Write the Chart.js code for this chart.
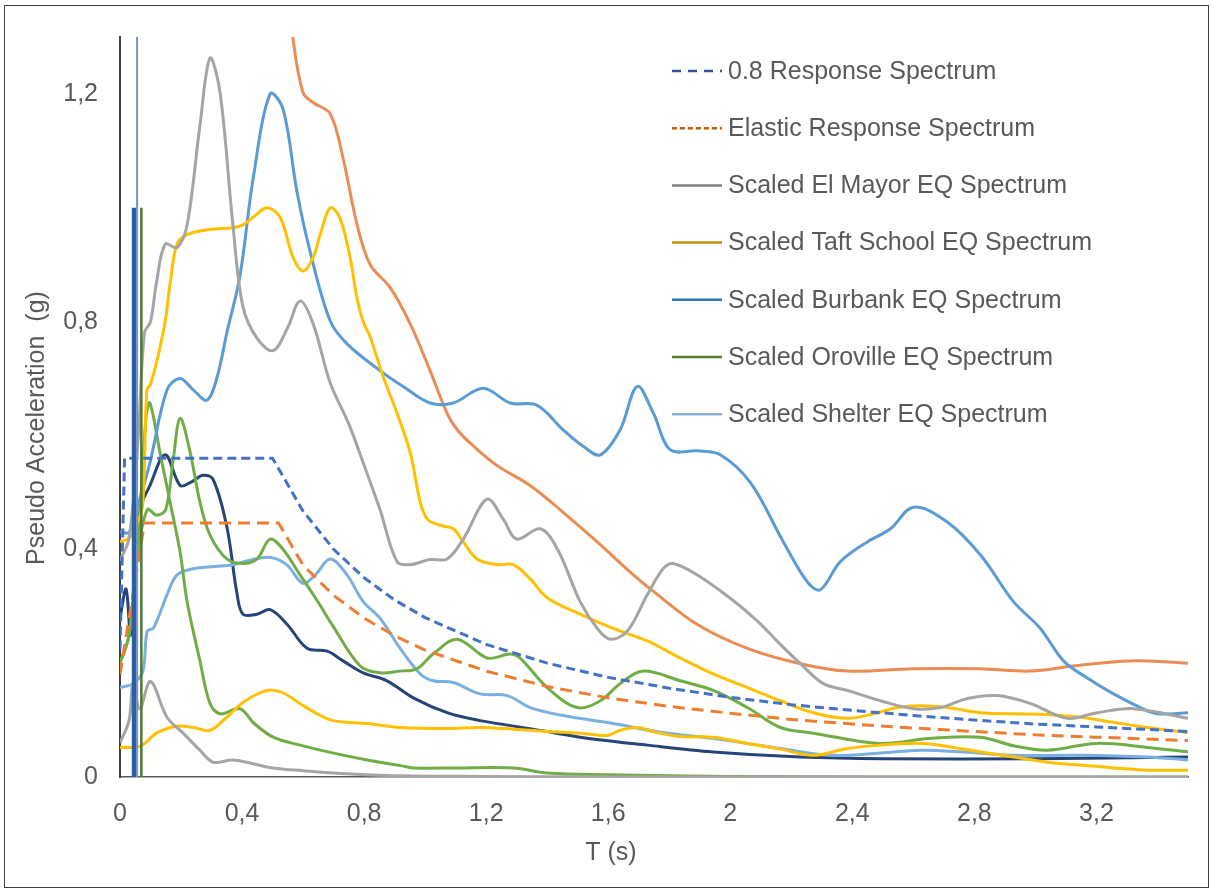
<!DOCTYPE html>
<html>
<head>
<meta charset="utf-8">
<script src="https://cdn.jsdelivr.net/npm/chart.js@4.4.1/dist/chart.umd.min.js"></script>
<style>
  body { margin: 0; background: #fff; }
  canvas { display: block; }
</style>
</head>
<body>
<canvas id="myChart" width="1213" height="893"></canvas>
<script>
// periods (s) and pseudo accelerations (g)

// design spectra
var spec08T = [0, 0.015, 0.5, 0.6, 0.7, 0.8, 0.9, 1.0, 1.2, 1.4, 1.6, 1.8, 2.0, 2.2, 2.4, 2.6, 2.8, 3.0, 3.2, 3.5];
var spec08Sa = [0.224, 0.56, 0.56, 0.467, 0.4, 0.35, 0.311, 0.28, 0.233, 0.2, 0.175, 0.156, 0.14, 0.127, 0.117, 0.108, 0.1, 0.093, 0.088, 0.08];

var elasticT = [0, 0.08, 0.52, 0.6, 0.7, 0.8, 0.9, 1.0, 1.2, 1.4, 1.6, 1.8, 2.0, 2.2, 2.4, 2.6, 2.8, 3.0, 3.2, 3.5];
var elasticSa = [0.18, 0.446, 0.446, 0.372, 0.319, 0.279, 0.248, 0.223, 0.186, 0.159, 0.139, 0.124, 0.112, 0.101, 0.093, 0.086, 0.08, 0.074, 0.07, 0.064];

// ground motion spectra
var elMayorT = [0, 0.03, 0.06, 0.08, 0.1, 0.12, 0.148, 0.187, 0.22, 0.262, 0.295, 0.328, 0.37, 0.403, 0.45, 0.502, 0.55, 0.59, 0.633, 0.689, 0.75, 0.797, 0.852, 0.908, 0.951, 1.016, 1.072, 1.125, 1.203, 1.256, 1.3, 1.377, 1.433, 1.508, 1.564, 1.607, 1.662, 1.728, 1.78, 1.813, 1.892, 2.0, 2.089, 2.164, 2.23, 2.305, 2.384, 2.492, 2.6, 2.689, 2.777, 2.875, 2.984, 3.105, 3.203, 3.321, 3.5];
var elMayorSa = [0.38, 0.42, 0.6, 0.78, 0.8, 0.87, 0.936, 0.93, 0.97, 1.145, 1.263, 1.202, 0.97, 0.826, 0.77, 0.749, 0.79, 0.836, 0.796, 0.692, 0.62, 0.552, 0.47, 0.378, 0.373, 0.382, 0.383, 0.418, 0.488, 0.453, 0.418, 0.436, 0.401, 0.308, 0.261, 0.242, 0.256, 0.32, 0.366, 0.375, 0.355, 0.314, 0.274, 0.233, 0.199, 0.164, 0.152, 0.134, 0.12, 0.122, 0.138, 0.143, 0.129, 0.103, 0.113, 0.12, 0.103];

var elMayor2T = [0, 0.03, 0.043, 0.065, 0.1, 0.154, 0.207, 0.262, 0.305, 0.37, 0.43, 0.5, 0.6, 0.7, 0.92, 1.2, 1.6, 2.0, 2.5, 3.0, 3.5];
var elMayor2Sa = [0.06, 0.1, 0.165, 0.12, 0.168, 0.105, 0.077, 0.047, 0.026, 0.03, 0.024, 0.016, 0.011, 0.007, 0.002, 0.001, 0, 0, 0, 0, 0];

var taftT = [0, 0.03, 0.06, 0.075, 0.088, 0.1, 0.125, 0.148, 0.165, 0.187, 0.22, 0.295, 0.37, 0.403, 0.44, 0.482, 0.525, 0.567, 0.6, 0.633, 0.66, 0.689, 0.72, 0.754, 0.777, 0.797, 0.82, 0.862, 0.908, 0.951, 0.984, 1.007, 1.049, 1.092, 1.125, 1.17, 1.236, 1.289, 1.344, 1.4, 1.508, 1.616, 1.728, 1.836, 1.944, 2.056, 2.164, 2.272, 2.384, 2.469, 2.548, 2.623, 2.711, 2.82, 2.928, 3.039, 3.148, 3.256, 3.367, 3.5];
var taftSa = [0.413, 0.42, 0.45, 0.483, 0.68, 0.69, 0.74, 0.8, 0.87, 0.936, 0.953, 0.962, 0.965, 0.97, 0.985, 1.0, 0.983, 0.913, 0.889, 0.913, 0.96, 1.0, 0.983, 0.913, 0.84, 0.8, 0.773, 0.704, 0.639, 0.57, 0.483, 0.453, 0.442, 0.436, 0.413, 0.383, 0.373, 0.373, 0.348, 0.315, 0.286, 0.261, 0.239, 0.209, 0.181, 0.157, 0.134, 0.113, 0.103, 0.111, 0.122, 0.125, 0.122, 0.113, 0.111, 0.11, 0.105, 0.096, 0.087, 0.078];

var taft2T = [0, 0.066, 0.12, 0.187, 0.24, 0.295, 0.35, 0.403, 0.459, 0.492, 0.534, 0.59, 0.646, 0.698, 0.81, 0.918, 1.072, 1.18, 1.289, 1.4, 1.508, 1.597, 1.639, 1.695, 1.76, 1.836, 1.944, 2.056, 2.164, 2.272, 2.384, 2.49, 2.633, 2.73, 2.82, 2.928, 3.039, 3.148, 3.256, 3.367, 3.5];
var taft2Sa = [0.052, 0.054, 0.077, 0.089, 0.087, 0.082, 0.105, 0.131, 0.148, 0.153, 0.148, 0.129, 0.111, 0.099, 0.094, 0.087, 0.085, 0.087, 0.084, 0.08, 0.077, 0.073, 0.082, 0.087, 0.078, 0.071, 0.07, 0.059, 0.049, 0.038, 0.05, 0.056, 0.059, 0.052, 0.044, 0.035, 0.026, 0.021, 0.016, 0.012, 0.012];

var burbankT = [0, 0.03, 0.06, 0.098, 0.154, 0.197, 0.24, 0.285, 0.317, 0.35, 0.393, 0.436, 0.492, 0.534, 0.58, 0.623, 0.689, 0.744, 0.852, 0.928, 1.016, 1.092, 1.19, 1.279, 1.367, 1.452, 1.52, 1.574, 1.639, 1.695, 1.748, 1.803, 1.892, 1.967, 2.066, 2.174, 2.252, 2.295, 2.36, 2.449, 2.525, 2.6, 2.711, 2.82, 2.928, 3.016, 3.092, 3.17, 3.256, 3.344, 3.4, 3.5];
var burbankSa = [0.43, 0.43, 0.48, 0.552, 0.68, 0.7, 0.68, 0.662, 0.7, 0.78, 0.88, 1.05, 1.2, 1.174, 1.028, 0.923, 0.801, 0.761, 0.714, 0.686, 0.657, 0.657, 0.683, 0.657, 0.653, 0.61, 0.58, 0.566, 0.61, 0.686, 0.639, 0.575, 0.573, 0.566, 0.517, 0.413, 0.343, 0.329, 0.378, 0.413, 0.436, 0.474, 0.448, 0.39, 0.308, 0.261, 0.204, 0.174, 0.146, 0.122, 0.111, 0.113];

var shelterT = [0, 0.043, 0.075, 0.089, 0.11, 0.154, 0.187, 0.24, 0.37, 0.426, 0.49, 0.546, 0.6, 0.64, 0.689, 0.744, 0.797, 0.852, 0.918, 0.984, 1.026, 1.092, 1.18, 1.269, 1.344, 1.452, 1.616, 1.78, 1.944, 2.056, 2.164, 2.328, 2.492, 2.623, 2.764, 2.928, 3.148, 3.367, 3.5];
var shelterSa = [0.157, 0.164, 0.186, 0.256, 0.262, 0.32, 0.355, 0.366, 0.373, 0.381, 0.386, 0.373, 0.34, 0.355, 0.383, 0.355, 0.308, 0.279, 0.226, 0.181, 0.169, 0.166, 0.146, 0.143, 0.122, 0.108, 0.094, 0.078, 0.068, 0.059, 0.05, 0.038, 0.042, 0.047, 0.044, 0.038, 0.038, 0.035, 0.03];

var navyT = [0, 0.02, 0.035, 0.066, 0.098, 0.148, 0.197, 0.23, 0.272, 0.305, 0.35, 0.384, 0.403, 0.449, 0.492, 0.548, 0.613, 0.679, 0.731, 0.797, 0.875, 0.961, 1.072, 1.18, 1.344, 1.508, 1.728, 1.944, 2.23, 2.5, 3.0, 3.5];
var navySa = [0.28, 0.33, 0.25, 0.47, 0.512, 0.566, 0.512, 0.517, 0.53, 0.523, 0.44, 0.32, 0.286, 0.286, 0.294, 0.268, 0.226, 0.221, 0.204, 0.183, 0.169, 0.139, 0.113, 0.099, 0.085, 0.07, 0.056, 0.044, 0.035, 0.032, 0.032, 0.035];

var orovilleT = [0, 0.03, 0.06, 0.085, 0.098, 0.131, 0.164, 0.197, 0.22, 0.262, 0.295, 0.328, 0.393, 0.44, 0.502, 0.59, 0.7, 0.81, 0.92, 0.961, 1.1, 1.29, 1.4, 1.6, 2.0, 2.5, 3.0, 3.5];
var orovilleSa = [0.2, 0.25, 0.42, 0.63, 0.657, 0.57, 0.483, 0.395, 0.308, 0.204, 0.129, 0.111, 0.12, 0.094, 0.07, 0.056, 0.042, 0.03, 0.02, 0.016, 0.016, 0.016, 0.007, 0.004, 0.001, 0, 0, 0];

var oroville2T = [0, 0.03, 0.06, 0.09, 0.12, 0.15, 0.175, 0.197, 0.23, 0.262, 0.295, 0.35, 0.403, 0.449, 0.492, 0.534, 0.59, 0.646, 0.698, 0.787, 0.852, 0.918, 0.973, 1.026, 1.105, 1.203, 1.279, 1.311, 1.4, 1.498, 1.574, 1.639, 1.715, 1.836, 1.944, 2.056, 2.164, 2.272, 2.49, 2.66, 2.82, 2.928, 3.039, 3.2, 3.367, 3.5];
var oroville2Sa = [0.2, 0.25, 0.4, 0.47, 0.46, 0.47, 0.56, 0.63, 0.57, 0.483, 0.425, 0.383, 0.375, 0.383, 0.418, 0.4, 0.355, 0.31, 0.265, 0.195, 0.183, 0.186, 0.19, 0.216, 0.242, 0.209, 0.216, 0.209, 0.157, 0.122, 0.134, 0.164, 0.186, 0.169, 0.152, 0.122, 0.087, 0.077, 0.059, 0.068, 0.07, 0.055, 0.047, 0.059, 0.052, 0.044];

var orangeT = [0.52, 0.567, 0.6, 0.633, 0.689, 0.731, 0.777, 0.82, 0.885, 0.951, 1.016, 1.072, 1.105, 1.157, 1.236, 1.344, 1.452, 1.564, 1.672, 1.748, 1.892, 2.056, 2.23, 2.384, 2.6, 2.82, 2.984, 3.125, 3.311, 3.5];
var orangeSa = [1.5, 1.296, 1.202, 1.185, 1.165, 1.087, 0.97, 0.9, 0.86, 0.796, 0.714, 0.639, 0.61, 0.582, 0.547, 0.512, 0.465, 0.413, 0.36, 0.326, 0.268, 0.226, 0.199, 0.186, 0.19, 0.19, 0.186, 0.195, 0.204, 0.2];

// spikes near T = 0.05
var spikeT = [0.046, 0.056, 0.07];
var spikeSa = [1.0, 1.4, 1.0];

// axis ticks
var xTicks = [0, 0.4, 0.8, 1.2, 1.6, 2, 2.4, 2.8, 3.2];
var yTicks = [0, 0.4, 0.8, 1.2];

// legend
var legendLabels = ["0.8 Response Spectrum", "Elastic Response Spectrum", "Scaled El Mayor EQ Spectrum",
  "Scaled Taft School EQ Spectrum", "Scaled Burbank EQ Spectrum", "Scaled Oroville EQ Spectrum", "Scaled Shelter EQ Spectrum"];
var legendColors = ["#2F5597", "#C55A11", "#7F7F7F", "#BF9000", "#2E75B6", "#548235", "#8FAADC"];
var legendDash = [[9, 7], [5, 3], [], [], [], [], []];

function pts(t, v) {
  return t.map(function (x, i) { return { x: x, y: v[i] }; });
}

function curve(label, t, v, color, width, dash) {
  return {
    label: label,
    data: pts(t, v),
    borderColor: color,
    borderWidth: width || 3,
    borderDash: dash || [],
    pointRadius: 0,
    tension: dash ? 0 : 0.35,
    fill: false,
  };
}

function spike(i, color, width) {
  return {
    label: "spike" + i,
    data: [{ x: spikeT[i], y: 0 }, { x: spikeT[i], y: spikeSa[i] }],
    borderColor: color,
    borderWidth: width,
    pointRadius: 0,
    tension: 0,
  };
}

const font = '"Liberation Sans", Arial, sans-serif';
const textColor = "#595959";

const frame = {
  id: "frame",
  beforeDraw(chart) {
    const c = chart.ctx;
    c.save();
    c.fillStyle = "#fff";
    c.fillRect(0, 0, chart.width, chart.height);
    c.strokeStyle = "#404040";
    c.lineWidth = 1;
    c.strokeRect(4.5, 5.5, 1204, 882);
    c.restore();
  },
};

// legend and axis titles, placed where the original has them
const sideLegend = {
  id: "sideLegend",
  afterDraw(chart) {
    const c = chart.ctx;
    c.save();
    c.font = "25px " + font;
    c.textBaseline = "middle";
    c.fillStyle = textColor;
    for (var i = 0; i < legendLabels.length; i++) {
      var y = 71 + i * 57.2;
      c.beginPath();
      c.setLineDash(legendDash[i]);
      c.strokeStyle = legendColors[i];
      c.lineWidth = 2.5;
      c.moveTo(672, y);
      c.lineTo(722, y);
      c.stroke();
      c.fillText(legendLabels[i], 728, y + 1);
    }
    c.textAlign = "center";
    c.fillText("T (s)", 611, 853);
    c.translate(37, 428);
    c.rotate(-Math.PI / 2);
    c.fillText("Pseudo Acceleration  (g)", 0, 0);
    c.restore();
  },
};

const ctx = document.getElementById("myChart");

const chart = new Chart(ctx, {
  type: "line",
  data: {
    datasets: [
      spike(1, "#6F93D8", 2),
      spike(0, "#2F5E9E", 4.5),
      spike(2, "#4E7A31", 2.5),
      curve("0.8 Response Spectrum", spec08T, spec08Sa, "#4472C4", 3, [9, 5]),
      curve("Elastic Response Spectrum", elasticT, elasticSa, "#ED7D31", 3, [12, 7]),
      curve("Scaled El Mayor EQ Spectrum", elMayorT, elMayorSa, "#A5A5A5"),
      curve("El Mayor 2", elMayor2T, elMayor2Sa, "#A5A5A5"),
      curve("Scaled Taft School EQ Spectrum", taftT, taftSa, "#FFC000"),
      curve("Taft School 2", taft2T, taft2Sa, "#FFC000"),
      curve("Scaled Burbank EQ Spectrum", burbankT, burbankSa, "#5B9BD5"),
      curve("Scaled Oroville EQ Spectrum", orovilleT, orovilleSa, "#70AD47"),
      curve("Oroville 2", oroville2T, oroville2Sa, "#70AD47"),
      curve("Scaled Shelter EQ Spectrum", shelterT, shelterSa, "#7AB0E0"),
      curve("Navy", navyT, navySa, "#264478"),
      curve("Orange", orangeT, orangeSa, "#E98C55"),
    ],
  },
  options: {
    responsive: false,
    animation: false,
    layout: { padding: { left: 0, top: 33, right: 25, bottom: 0 } },
    plugins: {
      legend: { display: false },
      tooltip: { enabled: false },
    },
    scales: {
      x: {
        type: "linear",
        min: 0,
        max: 3.5,
        afterFit: function (s) { s.height = 116; },
        afterBuildTicks: function (s) { s.ticks = xTicks.map(function (v) { return { value: v }; }); },
        grid: { display: false, drawTicks: false },
        border: { display: true, color: "#595959", width: 1.5 },
        ticks: {
          padding: 22,
          color: textColor,
          font: { family: font, size: 25 },
          maxRotation: 0,
          callback: function (v) { return String(Math.round(v * 10) / 10).replace(".", ","); },
        },
        title: { display: false },
      },
      y: {
        min: 0,
        max: 1.3,
        afterFit: function (s) { s.width = 120; },
        afterBuildTicks: function (s) { s.ticks = yTicks.map(function (v) { return { value: v }; }); },
        grid: { display: false, drawTicks: false },
        border: { display: true, color: "#404040", width: 2 },
        ticks: {
          padding: 22,
          color: textColor,
          font: { family: font, size: 25 },
          callback: function (v) { return String(Math.round(v * 10) / 10).replace(".", ","); },
        },
        title: { display: false },
      },
    },
  },
  plugins: [frame, sideLegend],
});
</script>
</body>
</html>
